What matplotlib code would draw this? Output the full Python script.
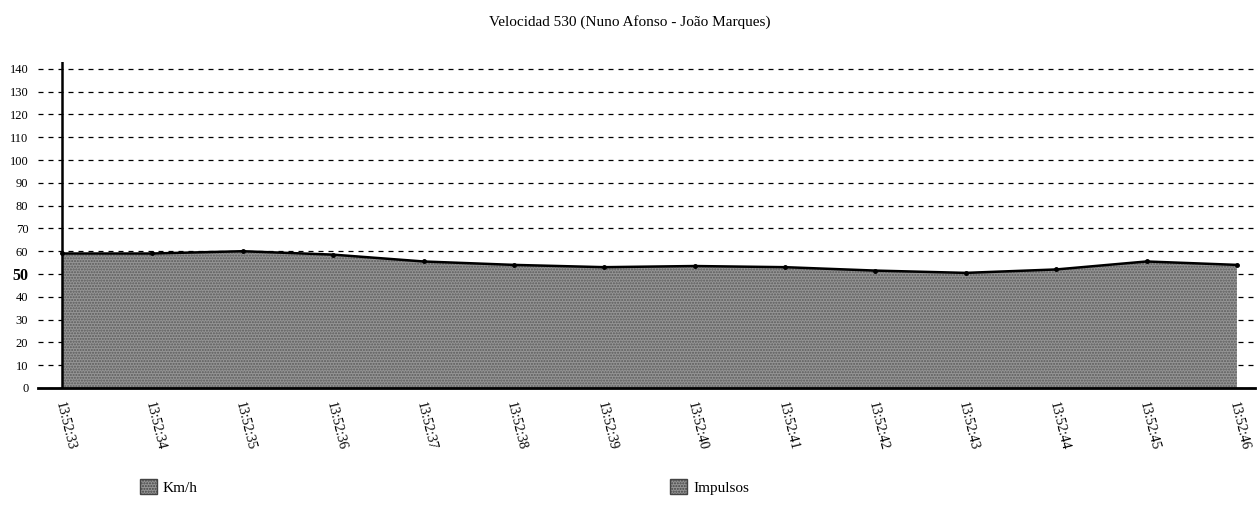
import matplotlib
matplotlib.use('Agg')
import matplotlib.pyplot as plt
import matplotlib.transforms as mtransforms
import numpy as np
from matplotlib.patches import Patch

plt.rcParams['font.family'] = ['Liberation Serif', 'DejaVu Serif']

title = 'Velocidad 530 (Nuno Afonso - João Marques)'
times = ['13:52:33', '13:52:34', '13:52:35', '13:52:36', '13:52:37', '13:52:38', '13:52:39',
         '13:52:40', '13:52:41', '13:52:42', '13:52:43', '13:52:44', '13:52:45', '13:52:46']
kmh = [59, 59, 60, 58.5, 55.5, 54, 53, 53.5, 53, 51.5, 50.5, 52, 55.5, 54]
impulsos = [0, 0, 0, 0, 0, 0, 0, 0, 0, 0, 0, 0, 0, 0]
yticks = [0, 10, 20, 30, 40, 50, 60, 70, 80, 90, 100, 110, 120, 130, 140]

fig = plt.figure(figsize=(12.6, 5.08), dpi=100)
ax = fig.add_axes([38 / 1260, 1 - 388 / 508, (1255 - 38) / 1260, (388 - 62) / 508])

x = np.arange(len(times))
ax.fill_between(x, kmh, 0, facecolor='#959595', edgecolor='#5a5a5a', hatch='......',
                linewidth=0, zorder=2)
ax.fill_between(x, impulsos, 0, facecolor='#b0b0b0', linewidth=0, zorder=2)
ax.plot(x, kmh, color='black', lw=1.8, marker='o', ms=2.5, zorder=4)

ax.set_xlim(-0.266, 13.2)
ax.set_ylim(0, 143)
ax.set_yticks(yticks)
ax.set_yticklabels([str(v) for v in yticks])
ax.set_xticks(x)
ax.set_xticklabels(times, rotation=-76, ha='left', va='top', rotation_mode='anchor', fontsize=10)
ax.tick_params(axis='x', length=0, pad=9)
ax.tick_params(axis='y', length=0, pad=7, labelsize=9)
shift = mtransforms.ScaledTranslation(3 / 100, 0, fig.dpi_scale_trans)
for lbl in ax.get_xticklabels():
    lbl.set_transform(lbl.get_transform() + shift)
for lbl in ax.get_yticklabels():
    if lbl.get_text() == '50':
        lbl.set_fontsize(11.5)
        lbl.set_fontweight('bold')

ax.set_axisbelow(True)
ax.yaxis.grid(True, color='black', linestyle=(0, (4, 4)), linewidth=0.9, zorder=1)
ax.axvline(0, color='black', lw=1.8, zorder=5)

for s in ['top', 'right', 'left']:
    ax.spines[s].set_visible(False)
ax.spines['bottom'].set_linewidth(2)
ax.spines['bottom'].set_zorder(6)

fig.text(630 / 1260, 1 - 22 / 508, title, ha='center', va='center', fontsize=11)

h1 = Patch(facecolor='#959595', edgecolor='#444444', hatch='......', label='Km/h')
h2 = Patch(facecolor='#959595', edgecolor='#444444', hatch='......', label='Impulsos')
for h, xpos in [(h1, 140), (h2, 670)]:
    fig.legend(handles=[h], loc='center left', bbox_to_anchor=(xpos / 1260, 1 - 487 / 508),
               frameon=False, handlelength=1.1, handleheight=1.1, handletextpad=0.4,
               borderpad=0, borderaxespad=0, fontsize=11)

fig.savefig('out.png', dpi=100)
